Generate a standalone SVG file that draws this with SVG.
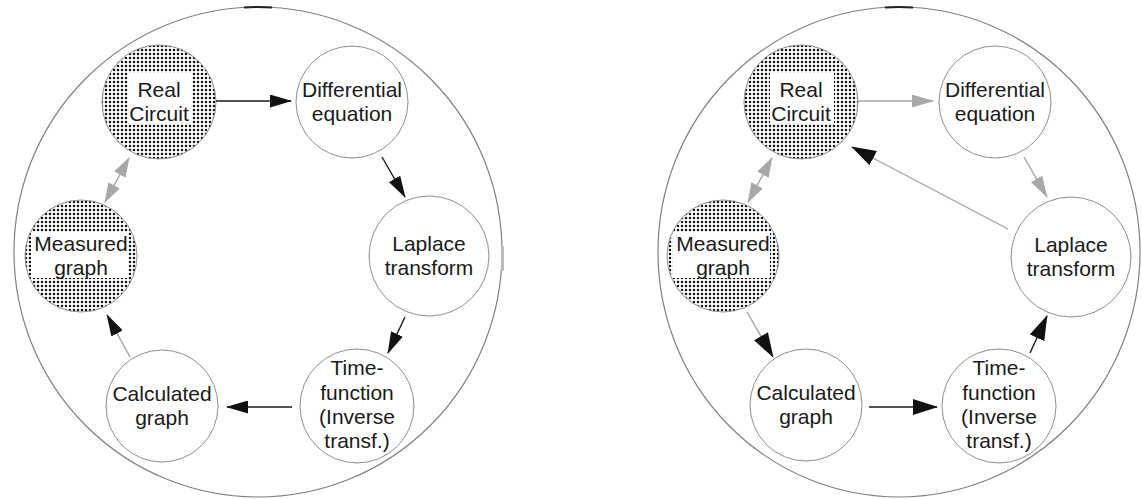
<svg xmlns="http://www.w3.org/2000/svg" width="1142" height="499" viewBox="0 0 1142 499">
<defs>
<style>
.outer{fill:none;stroke:#808080;stroke-width:1.2}
.mark{fill:none;stroke:#222;stroke-width:2}
.tick{fill:none;stroke:#bdbdbd;stroke-width:3}
.node{fill:#fff;stroke:#8f8f8f;stroke-width:1}
.hatch{fill:url(#dots);stroke:#8f8f8f;stroke-width:1}
.box{fill:#fff;stroke:none}
.lbl{font-family:"Liberation Sans",Arial,sans-serif;font-size:21px;fill:#1a1a1a;text-anchor:middle}
.cb{fill:none;stroke:#1a1a1a;stroke-width:1.4}
.cg{fill:none;stroke:#a3a3a3;stroke-width:1.4}
</style>
<pattern id="dots" width="4" height="4" patternUnits="userSpaceOnUse">
<rect width="4" height="4" fill="#fff"/>
<rect x="0.9" y="0.9" width="2.2" height="2.2" fill="#111"/>
</pattern>
<marker id="hb" viewBox="0 0 22 13" refX="21" refY="6.5" markerWidth="22" markerHeight="13" markerUnits="userSpaceOnUse" orient="auto"><path d="M0,0L22,6.5L0,13z" fill="#111"/></marker>
<marker id="hbL" viewBox="0 0 25 16" refX="24" refY="8" markerWidth="25" markerHeight="16" markerUnits="userSpaceOnUse" orient="auto"><path d="M0,0L25,8L0,16z" fill="#111"/></marker>
<marker id="hg" viewBox="0 0 22 13" refX="21" refY="6.5" markerWidth="22" markerHeight="13" markerUnits="userSpaceOnUse" orient="auto"><path d="M0,0L22,6.5L0,13z" fill="#a8a8a8"/></marker>
<marker id="hgd" viewBox="0 0 20 13" refX="19" refY="6.5" markerWidth="20" markerHeight="13" markerUnits="userSpaceOnUse" orient="auto-start-reverse"><path d="M0,0L20,6.5L0,13z" fill="#a8a8a8"/></marker>
</defs>

<g id="left-frame">
<ellipse class="outer" cx="258" cy="252" rx="244" ry="245"/>
<path class="mark" d="M244,7.5Q258,6.4 272,7.5"/>
<line class="tick" x1="502.5" y1="246" x2="502.5" y2="271"/>
</g>
<g id="right-frame">
<ellipse class="outer" cx="899" cy="252" rx="241" ry="245"/>
<path class="mark" d="M885,7.5Q899,6.4 913,7.5"/>
</g>

<!-- Left diagram nodes -->
<g id="L-real-circuit">
<circle class="hatch" cx="159" cy="102" r="57"/>
<rect class="box" x="128" y="73" width="64" height="50"/>
<text class="lbl" x="159" y="97">Real</text>
<text class="lbl" x="159" y="121">Circuit</text>
</g>
<g id="L-differential">
<circle class="node" cx="352" cy="102" r="56"/>
<text class="lbl" x="352" y="97">Differential</text>
<text class="lbl" x="352" y="121">equation</text>
</g>
<g id="L-laplace">
<circle class="node" cx="429" cy="256" r="60"/>
<text class="lbl" x="429" y="251">Laplace</text>
<text class="lbl" x="429" y="275">transform</text>
</g>
<g id="L-timefunction">
<circle class="node" cx="357" cy="406" r="57"/>
<text class="lbl" x="357" y="375">Time-</text>
<text class="lbl" x="357" y="400">function</text>
<text class="lbl" x="357" y="424">(Inverse</text>
<text class="lbl" x="357" y="448">transf.)</text>
</g>
<g id="L-calculated">
<circle class="node" cx="162" cy="406" r="56"/>
<text class="lbl" x="162" y="401">Calculated</text>
<text class="lbl" x="162" y="425">graph</text>
</g>
<g id="L-measured">
<circle class="hatch" cx="81" cy="256" r="56"/>
<rect class="box" x="31" y="232" width="97" height="46"/>
<text class="lbl" x="81" y="251">Measured</text>
<text class="lbl" x="81" y="275">graph</text>
</g>

<!-- Right diagram nodes -->
<g id="R-real-circuit">
<circle class="hatch" cx="801" cy="102" r="57"/>
<rect class="box" x="770" y="73" width="64" height="50"/>
<text class="lbl" x="801" y="97">Real</text>
<text class="lbl" x="801" y="121">Circuit</text>
</g>
<g id="R-differential">
<circle class="node" cx="995" cy="102" r="56"/>
<text class="lbl" x="995" y="97">Differential</text>
<text class="lbl" x="995" y="121">equation</text>
</g>
<g id="R-laplace">
<circle class="node" cx="1071" cy="257" r="60"/>
<text class="lbl" x="1071" y="252">Laplace</text>
<text class="lbl" x="1071" y="276">transform</text>
</g>
<g id="R-timefunction">
<circle class="node" cx="999" cy="406" r="57"/>
<text class="lbl" x="999" y="375">Time-</text>
<text class="lbl" x="999" y="400">function</text>
<text class="lbl" x="999" y="424">(Inverse</text>
<text class="lbl" x="999" y="448">transf.)</text>
</g>
<g id="R-calculated">
<circle class="node" cx="806" cy="405" r="56"/>
<text class="lbl" x="806" y="400">Calculated</text>
<text class="lbl" x="806" y="424">graph</text>
</g>
<g id="R-measured">
<circle class="hatch" cx="723" cy="256" r="56"/>
<rect class="box" x="673" y="232" width="97" height="46"/>
<text class="lbl" x="723" y="251">Measured</text>
<text class="lbl" x="723" y="275">graph</text>
</g>

<g id="connectors">
<!-- left -->
<line class="cb" x1="216" y1="101" x2="291" y2="101" marker-end="url(#hb)"/>
<line class="cb" x1="382" y1="157" x2="405" y2="197" marker-end="url(#hb)"/>
<line class="cb" x1="405" y1="317" x2="388" y2="353" marker-end="url(#hb)"/>
<line class="cb" x1="292" y1="407" x2="227" y2="407" marker-end="url(#hb)"/>
<line class="cg" x1="130" y1="357" x2="107" y2="315" marker-end="url(#hb)"/>
<line class="cg" x1="105" y1="202" x2="129" y2="158" marker-start="url(#hgd)" marker-end="url(#hgd)"/>
<!-- right -->
<line class="cg" x1="858" y1="101" x2="933" y2="101" marker-end="url(#hg)"/>
<line class="cg" x1="1024" y1="157" x2="1047" y2="197" marker-end="url(#hg)"/>
<line class="cg" x1="1008" y1="229" x2="852" y2="147" marker-end="url(#hbL)"/>
<line class="cg" x1="748" y1="202" x2="772" y2="158" marker-start="url(#hgd)" marker-end="url(#hgd)"/>
<line class="cg" x1="747" y1="312" x2="773" y2="357" marker-end="url(#hbL)"/>
<line class="cb" x1="869" y1="407" x2="937" y2="407" marker-end="url(#hbL)"/>
<line class="cb" x1="1030" y1="353" x2="1047" y2="316" marker-end="url(#hbL)"/>
</g>
</svg>
